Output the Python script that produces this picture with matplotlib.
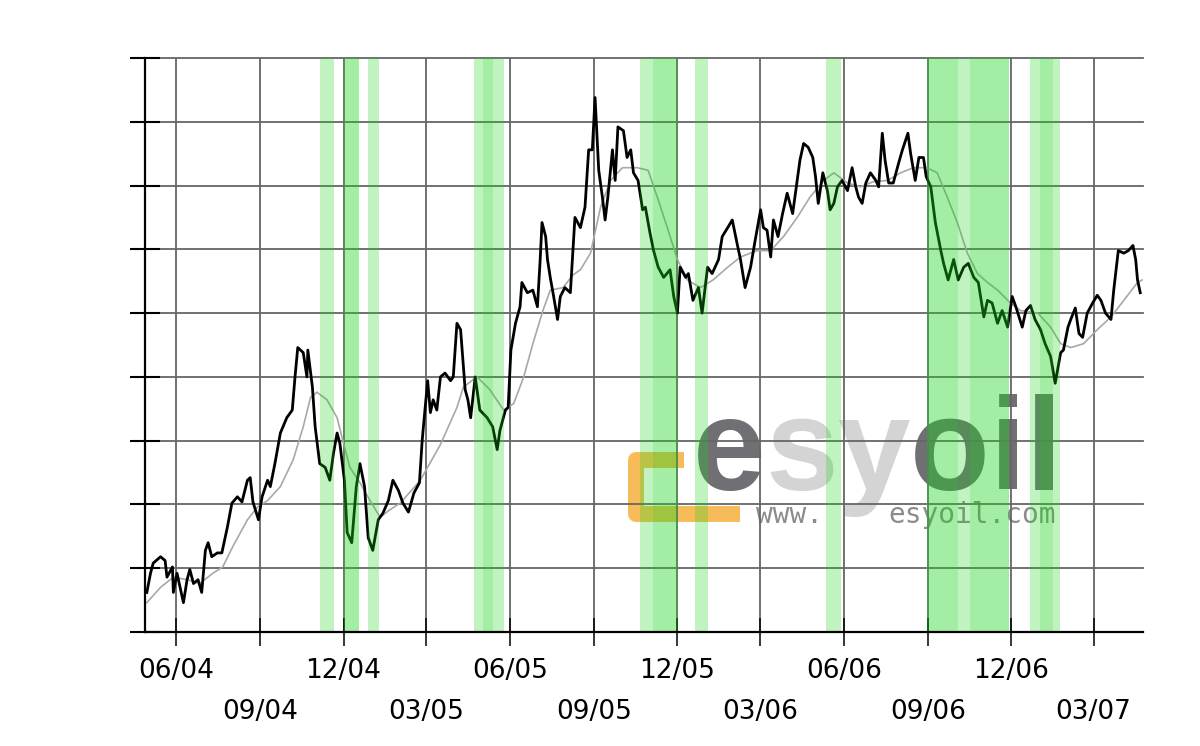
import pandas as pd
import matplotlib
matplotlib.use('Agg')
import matplotlib.pyplot as plt
import matplotlib.dates as mdates
from matplotlib.lines import Line2D


"""
Heizölpreis (Tageswerte) mit gleitendem Durchschnitt, 05/04 - 04/07
"""

# Tagespreise, eine Zeile pro Monat
price_dates = [
    "2004-04-30", "2004-05-04", "2004-05-07", "2004-05-15", "2004-05-20", "2004-05-22", "2004-05-28", "2004-05-29",
    "2004-06-02", "2004-06-09", "2004-06-13", "2004-06-16", "2004-06-20", "2004-06-25", "2004-06-29",
    "2004-07-03", "2004-07-06", "2004-07-10", "2004-07-16", "2004-07-21", "2004-07-27",
    "2004-08-01", "2004-08-07", "2004-08-12", "2004-08-18", "2004-08-21", "2004-08-24", "2004-08-30",
    "2004-09-03", "2004-09-09", "2004-09-12", "2004-09-17", "2004-09-23", "2004-09-30",
    "2004-10-06", "2004-10-09", "2004-10-12", "2004-10-18", "2004-10-22", "2004-10-23", "2004-10-28", "2004-10-31",
    "2004-11-05", "2004-11-11", "2004-11-16", "2004-11-20", "2004-11-24", "2004-11-27",
    "2004-12-02", "2004-12-05", "2004-12-10", "2004-12-15", "2004-12-19", "2004-12-24", "2004-12-28",
    "2005-01-02", "2005-01-08", "2005-01-13", "2005-01-19", "2005-01-24", "2005-01-30",
    "2005-02-04", "2005-02-10", "2005-02-16", "2005-02-22", "2005-02-25", "2005-02-27",
    "2005-03-03", "2005-03-06", "2005-03-09", "2005-03-13", "2005-03-17", "2005-03-22", "2005-03-28", "2005-03-31",
    "2005-04-04", "2005-04-08", "2005-04-13", "2005-04-16", "2005-04-19", "2005-04-24", "2005-04-29",
    "2005-05-07", "2005-05-13", "2005-05-18", "2005-05-21", "2005-05-27", "2005-05-30",
    "2005-06-02", "2005-06-07", "2005-06-12", "2005-06-14", "2005-06-20", "2005-06-26",
    "2005-07-01", "2005-07-04", "2005-07-06", "2005-07-10", "2005-07-12", "2005-07-15", "2005-07-18", "2005-07-23", "2005-07-26", "2005-07-31",
    "2005-08-06", "2005-08-11", "2005-08-17", "2005-08-22", "2005-08-26", "2005-08-30",
    "2005-09-02", "2005-09-06", "2005-09-10", "2005-09-13", "2005-09-16", "2005-09-21", "2005-09-24", "2005-09-27",
    "2005-10-03", "2005-10-07", "2005-10-11", "2005-10-14", "2005-10-19", "2005-10-24", "2005-10-27",
    "2005-11-01", "2005-11-05", "2005-11-10", "2005-11-16", "2005-11-23", "2005-11-27",
    "2005-12-01", "2005-12-04", "2005-12-10", "2005-12-13", "2005-12-18", "2005-12-24", "2005-12-28",
    "2006-01-03", "2006-01-08", "2006-01-15", "2006-01-19", "2006-01-25", "2006-01-30",
    "2006-02-05", "2006-02-08", "2006-02-13", "2006-02-19", "2006-02-24",
    "2006-03-02", "2006-03-05", "2006-03-09", "2006-03-13", "2006-03-16", "2006-03-21", "2006-03-26", "2006-03-31",
    "2006-04-06", "2006-04-11", "2006-04-14", "2006-04-18", "2006-04-23", "2006-04-28",
    "2006-05-01", "2006-05-04", "2006-05-09", "2006-05-14", "2006-05-17", "2006-05-21", "2006-05-25", "2006-05-30",
    "2006-06-05", "2006-06-10", "2006-06-14", "2006-06-17", "2006-06-21", "2006-06-25", "2006-06-30",
    "2006-07-06", "2006-07-09", "2006-07-13", "2006-07-16", "2006-07-20", "2006-07-25", "2006-07-31",
    "2006-08-04", "2006-08-10", "2006-08-13", "2006-08-18", "2006-08-22", "2006-08-27", "2006-08-30",
    "2006-09-04", "2006-09-09", "2006-09-15", "2006-09-18", "2006-09-23", "2006-09-29",
    "2006-10-04", "2006-10-10", "2006-10-15", "2006-10-21", "2006-10-26",
    "2006-11-01", "2006-11-05", "2006-11-10", "2006-11-16", "2006-11-21", "2006-11-27",
    "2006-12-02", "2006-12-06", "2006-12-13", "2006-12-17", "2006-12-22", "2006-12-27",
    "2007-01-02", "2007-01-07", "2007-01-13", "2007-01-18", "2007-01-24", "2007-01-27",
    "2007-02-01", "2007-02-04", "2007-02-09", "2007-02-13", "2007-02-17", "2007-02-22", "2007-02-28",
    "2007-03-05", "2007-03-09", "2007-03-14", "2007-03-20", "2007-03-23", "2007-03-28",
    "2007-04-03", "2007-04-08", "2007-04-13", "2007-04-16", "2007-04-18", "2007-04-21",
]
price_values = [
    38.1, 39.6, 40.4, 40.9, 40.6, 39.3, 40.1, 38.1,
    39.6, 37.3, 39.1, 39.9, 38.8, 39.1, 38.1,
    41.4, 42.0, 40.9, 41.2, 41.2, 43.2,
    45.1, 45.6, 45.2, 46.9, 47.1, 45.2, 43.8,
    45.6, 46.9, 46.4, 48.2, 50.6, 51.8,
    52.4, 55.0, 57.3, 56.9, 55.0, 57.1, 54.2, 51.1,
    48.2, 47.9, 46.9, 49.0, 50.6, 49.8,
    46.9, 42.8, 42.0, 46.4, 48.2, 46.4, 42.4,
    41.4, 43.8, 44.3, 45.3, 46.9, 46.1,
    45.1, 44.4, 45.9, 46.7, 50.0, 51.6,
    54.7, 52.2, 53.2, 52.4, 55.0, 55.3, 54.7, 55.0,
    59.2, 58.7, 54.0, 53.2, 51.8, 55.0, 52.4,
    51.8, 51.1, 49.3, 50.8, 52.4, 52.6,
    57.1, 59.2, 60.5, 62.4, 61.6, 61.8,
    60.5, 64.2, 67.1, 66.0, 64.2, 62.8, 61.6, 59.5, 61.3, 62.0,
    61.6, 67.5, 66.7, 68.3, 72.8, 72.8,
    76.9, 71.2, 69.1, 67.3, 69.1, 72.8, 70.4, 74.6,
    74.3, 72.2, 72.8, 71.0, 70.4, 68.1, 68.3,
    66.3, 64.9, 63.6, 62.8, 63.4, 61.3,
    60.0, 63.6, 62.8, 63.1, 61.0, 62.0, 60.0,
    63.6, 63.1, 64.2, 66.0, 66.7, 67.3,
    65.2, 64.2, 62.0, 63.6, 65.7,
    68.1, 66.7, 66.5, 64.4, 67.3, 66.0, 67.8, 69.4,
    67.8, 70.4, 72.0, 73.3, 73.0, 72.2,
    70.7, 68.6, 71.0, 69.6, 68.1, 68.6, 69.9, 70.4,
    69.6, 71.4, 69.9, 69.1, 68.6, 70.2, 71.0,
    70.4, 69.9, 74.1, 72.0, 70.2, 70.2, 71.8,
    72.8, 74.1, 72.5, 70.4, 72.2, 72.2, 70.7,
    69.9, 67.1, 64.9, 63.9, 62.6, 64.2,
    62.6, 63.6, 63.9, 62.8, 62.4,
    59.7, 61.0, 60.8, 59.2, 60.2, 58.9,
    61.3, 60.5, 58.9, 60.2, 60.6, 59.5,
    58.7, 57.6, 56.6, 54.5, 56.9, 57.1,
    58.9, 59.5, 60.4, 58.4, 58.1, 60.0, 60.8,
    61.4, 61.0, 60.0, 59.5, 61.8, 64.9,
    64.7, 64.9, 65.3, 64.2, 62.6, 61.6,
]

# gleitender Durchschnitt (grau)
avg_dates = [
    "2004-04-30", "2004-05-15", "2004-05-29", "2004-06-13", "2004-06-27", "2004-07-11", "2004-07-22",
    "2004-08-02", "2004-08-18", "2004-08-29", "2004-09-09", "2004-09-23", "2004-10-07", "2004-10-18",
    "2004-10-26", "2004-11-02", "2004-11-13", "2004-11-24", "2004-12-01", "2004-12-08", "2004-12-19",
    "2004-12-30", "2005-01-10", "2005-01-21", "2005-02-01", "2005-02-23", "2005-03-17", "2005-04-04",
    "2005-04-11", "2005-04-26", "2005-05-10", "2005-05-25", "2005-06-05", "2005-06-16", "2005-06-26",
    "2005-07-07", "2005-07-15", "2005-07-29", "2005-08-09", "2005-08-17", "2005-08-28", "2005-09-08",
    "2005-09-19", "2005-10-02", "2005-10-18", "2005-10-30", "2005-11-09", "2005-11-20", "2005-12-01",
    "2005-12-12", "2005-12-26", "2006-01-09", "2006-01-25", "2006-02-08", "2006-02-26", "2006-03-13",
    "2006-03-27", "2006-04-11", "2006-04-25", "2006-05-10", "2006-05-21", "2006-06-05", "2006-06-19",
    "2006-07-03", "2006-07-19", "2006-08-02", "2006-08-16", "2006-08-31", "2006-09-11", "2006-09-22",
    "2006-10-03", "2006-10-14", "2006-10-25", "2006-11-05", "2006-11-16", "2006-11-30", "2006-12-11",
    "2006-12-30", "2007-01-13", "2007-01-24", "2007-02-04", "2007-02-18", "2007-03-05", "2007-03-20",
    "2007-04-03", "2007-04-18", "2007-04-23",
]
avg_values = [
    37.3, 38.5, 39.3, 39.1, 38.8, 39.6, 40.1,
    41.7, 43.8, 44.8, 45.3, 46.4, 48.5, 51.1,
    53.4, 53.8, 53.2, 51.8, 49.8, 47.9, 46.7,
    45.3, 44.0, 44.6, 45.1, 46.9, 49.7, 52.6,
    54.2, 55.0, 54.0, 52.4, 52.9, 55.0, 57.6,
    60.2, 61.8, 62.0, 63.0, 63.4, 64.7, 68.3,
    70.4, 71.4, 71.4, 71.2, 69.1, 66.7, 64.2,
    62.6, 62.0, 62.6, 63.6, 64.4, 64.9, 64.9,
    66.0, 67.5, 69.1, 70.4, 71.0, 70.2, 69.9,
    70.3, 70.4, 71.0, 71.4, 71.4, 71.0, 69.1,
    67.1, 64.7, 63.1, 62.4, 61.8, 60.8, 60.2,
    60.0, 58.9, 57.6, 57.3, 57.6, 58.7, 59.7,
    61.0, 62.4, 62.6,
]

# grüne Zeiträume (Kaufempfehlung)
band_starts = ["2004-11-05", "2004-12-01", "2004-12-28", "2005-04-23", "2005-10-21",
               "2005-12-20", "2006-05-13", "2006-08-31", "2006-12-22"]
band_ends = ["2004-11-21", "2004-12-18", "2005-01-09", "2005-05-25", "2005-12-02",
             "2006-01-04", "2006-05-29", "2006-11-29", "2007-01-23"]
# Tage mit stärkerem Signal (dunkleres Grün)
strong_starts = ["2004-12-01", "2005-05-02", "2005-11-04", "2006-08-31", "2006-10-17", "2007-01-01"]
strong_ends = ["2004-12-18", "2005-05-13", "2005-12-01", "2006-10-04", "2006-11-29", "2007-01-16"]


def px(x, y):
    # Pixelposition im Bild -> Achsenanteil (Achse: x 145..1143, y 58..632)
    return (x - 145) / 998, (632 - y) / 574


def draw_logo(ax):
    # esyoil Logo als Wasserzeichen
    xs, ys = zip(px(684, 460), px(636, 460), px(636, 514), px(740, 514))
    ax.add_line(Line2D(xs, ys, transform=ax.transAxes, color='#f5a623', alpha=0.75,
                       lw=11.5, solid_joinstyle='round', solid_capstyle='butt', zorder=0.3))
    letters = [('e', 729, '#707074'), ('s', 802, '#d4d4d4'), ('y', 874, '#d4d4d4'),
               ('o', 950, '#707074'), ('i', 1008, '#707074'), ('l', 1044, '#707074')]
    for ch, x, col in letters:
        fx, fy = px(x, 490)
        ax.text(fx, fy, ch, transform=ax.transAxes, ha='center', va='baseline',
                fontsize=94, fontweight='bold', family=['Liberation Sans', 'DejaVu Sans'],
                color=col, zorder=0.3)
    for s, x in [('www.', 790), ('esyoil.com', 972)]:
        fx, fy = px(x, 523)
        ax.text(fx, fy, s, transform=ax.transAxes, ha='center', va='baseline',
                fontsize=20, family='DejaVu Sans Mono', color='#8c8c8c', zorder=0.3)


def draw_chart():
    assert len(price_dates) == len(price_values)
    assert len(avg_dates) == len(avg_values)
    prices = pd.Series(price_values, index=pd.to_datetime(price_dates))
    avg = pd.Series(avg_values, index=pd.to_datetime(avg_dates))

    fig = plt.figure(figsize=(12, 7.46), dpi=100)
    ax = fig.add_axes([145 / 1200, 1 - 632 / 746, 998 / 1200, 574 / 746])
    ax.set_axisbelow(True)

    draw_logo(ax)

    ax.plot(avg.index, avg.values, color='#a8a8a8', lw=1.2, zorder=2)
    ax.plot(prices.index, prices.values, color='black', lw=2.0, zorder=2.1)

    for s, e in zip(band_starts, band_ends):
        ax.axvspan(pd.Timestamp(s), pd.Timestamp(e), color='#1ad41a', alpha=0.27, lw=0, zorder=2.3)
    for s, e in zip(strong_starts, strong_ends):
        ax.axvspan(pd.Timestamp(s), pd.Timestamp(e), color='#1ad41a', alpha=0.17, lw=0, zorder=2.3)

    ax.set_xlim(pd.Timestamp("2004-04-28"), pd.Timestamp("2007-04-24"))
    ax.set_ylim(35, 80)
    ax.set_yticks(range(35, 81, 5))
    ax.set_yticklabels([])

    ax.xaxis.set_major_locator(mdates.MonthLocator(bymonth=[6, 12]))
    ax.xaxis.set_minor_locator(mdates.MonthLocator(bymonth=[3, 9]))
    ax.xaxis.set_major_formatter(mdates.DateFormatter('%m/%y'))
    ax.xaxis.set_minor_formatter(mdates.DateFormatter('%m/%y'))

    ax.tick_params(axis='y', direction='inout', length=21, width=1.5, color='black')
    ax.tick_params(axis='x', which='both', direction='inout', length=20, width=1.1,
                   color='black', labelsize=19)
    ax.tick_params(axis='x', which='major', pad=9)
    ax.tick_params(axis='x', which='minor', pad=38)

    ax.grid(True, axis='x', which='both', color='#666666', lw=1.3)
    ax.grid(True, axis='y', which='major', color='#666666', lw=1.3)
    for gl in ax.get_ygridlines():
        gl.set_clip_on(False)

    for side in ['top', 'right']:
        ax.spines[side].set_visible(False)
    ax.spines['left'].set_linewidth(1.6)
    ax.spines['bottom'].set_linewidth(1.6)

    fig.savefig('out.png', dpi=100, facecolor='white')


if __name__ == '__main__':
    draw_chart()
